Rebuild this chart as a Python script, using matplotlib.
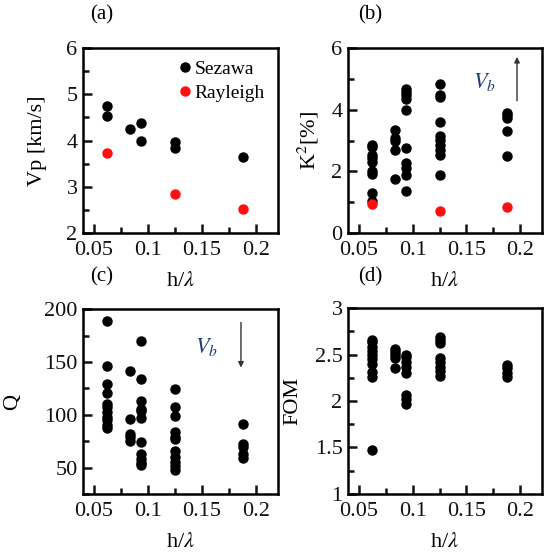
import numpy as np
import matplotlib
matplotlib.use('Agg')
import matplotlib.pyplot as plt
from matplotlib.ticker import MultipleLocator, FixedLocator

plt.rcParams['font.family'] = ['Liberation Serif', 'DejaVu Serif']
plt.rcParams['mathtext.fontset'] = 'stix'

# (a) phase velocity
vp_sez_x = [0.0625, 0.0625, 0.0833, 0.09375, 0.09375, 0.125, 0.125, 0.1875]
vp_sez_y = [4.75, 4.52, 4.25, 4.38, 4.0, 3.97, 3.83, 3.65]
vp_ray_x = [0.0625, 0.125, 0.1875]
vp_ray_y = [3.73, 2.85, 2.53]

# (b) coupling coefficient
k2_sez_x = [0.0625]*9 + [0.0833]*5 + [0.09375]*10 + [0.125]*10 + [0.1875]*5
k2_sez_y = [2.86, 2.78, 2.54, 2.43, 2.32, 2.02, 1.92, 1.30, 1.03,
            3.35, 3.08, 2.97, 2.70, 1.76,
            4.67, 4.59, 4.49, 4.36, 4.00, 2.76, 2.27, 2.11, 1.89, 1.35,
            4.83, 4.49, 4.40, 3.59, 3.14, 3.03, 2.84, 2.70, 2.54, 1.87,
            3.89, 3.82, 3.73, 3.32, 2.49]
k2_ray_x = [0.0625, 0.125, 0.1875]
k2_ray_y = [0.93, 0.72, 0.85]

# (c) quality factor
q_x = [0.0625]*11 + [0.0833]*5 + [0.09375]*11 + [0.125]*11 + [0.1875]*5
q_y = [188.7, 146, 129, 120.8, 110.6, 106.9, 102.7, 98, 94.8, 90.1, 87,
       141.3, 95.5, 82.2, 79, 75.3,
       170, 134.3, 113.2, 105.9, 103.7, 97, 74.3, 62.6, 58.5, 54.7, 52.2,
       124.2, 106.9, 98.6, 83.8, 79, 76.8, 65.8, 60.1, 55.4, 51.6, 48.1,
       91.7, 72.1, 69, 63.3, 59.5]

# (d) figure of merit
fom_x = [0.0625]*10 + [0.0833]*5 + [0.09375]*8 + [0.125]*8 + [0.1875]*4
fom_y = [2.66, 2.63, 2.58, 2.54, 2.49, 2.45, 2.40, 2.31, 2.26, 1.47,
         2.56, 2.53, 2.49, 2.46, 2.35,
         2.50, 2.47, 2.42, 2.37, 2.30, 2.06, 2.02, 1.97,
         2.69, 2.66, 2.62, 2.46, 2.42, 2.37, 2.32, 2.27,
         2.39, 2.35, 2.30, 2.26]

xticks = [0.05, 0.1, 0.15, 0.2]
xticklabels = ['0.05', '0.1', '0.15', '0.2']

fig = plt.figure(figsize=(5.5, 5.55), dpi=100)
ax_a = fig.add_axes([0.151, 0.580, 0.354, 0.3335])
ax_b = fig.add_axes([0.633, 0.580, 0.352, 0.3335])
ax_c = fig.add_axes([0.151, 0.110, 0.354, 0.333])
ax_d = fig.add_axes([0.633, 0.110, 0.352, 0.335])

ms = 6.5
blk = '#000000'
red = '#ff1010'
vb_col = '#1d3b78'


def style(ax, ylim, ymaj, ymin, ylabel, ylab_x):
    ax.set_xlim(0.04, 0.22)
    ax.set_ylim(*ylim)
    ax.xaxis.set_major_locator(FixedLocator(xticks))
    ax.set_xticklabels(xticklabels)
    ax.xaxis.set_minor_locator(FixedLocator([0.075, 0.125, 0.175]))
    ax.yaxis.set_major_locator(MultipleLocator(ymaj))
    ax.yaxis.set_minor_locator(MultipleLocator(ymin))
    ax.tick_params(which='both', direction='in', top=False, right=False,
                   width=1.8, labelsize=16, colors='#111111')
    ax.tick_params(which='major', length=6.5)
    ax.tick_params(which='minor', length=4)
    ax.tick_params(axis='x', which='major', pad=6)
    ax.tick_params(axis='y', which='major', pad=4)
    for s in ax.spines.values():
        s.set_linewidth(1.8)
    ax.set_xlabel('h/$\\lambda$', fontsize=16)
    ax.xaxis.set_label_coords(0.5, -0.26)
    ax.xaxis.label.set_va('center')
    ax.set_ylabel(ylabel, fontsize=16)
    ax.yaxis.set_label_coords(ylab_x, 0.5)
    ax.yaxis.label.set_va('center')


# (a)
ax_a.plot(vp_sez_x, vp_sez_y, 'o', color=blk, ms=ms, label='Sezawa')
ax_a.plot(vp_ray_x, vp_ray_y, 'o', color=red, ms=ms, label='Rayleigh')
style(ax_a, (2, 6), 1, 0.5, 'Vp [km/s]', -0.236)
ax_a.legend(loc='upper right', frameon=False, fontsize=14, handletextpad=0.0,
            handlelength=1.0, borderaxespad=0.25, labelspacing=0.3)

# (b)
ax_b.plot(k2_sez_x, k2_sez_y, 'o', color=blk, ms=ms)
ax_b.plot(k2_ray_x, k2_ray_y, 'o', color=red, ms=ms)
style(ax_b, (0, 6), 2, 1, 'K$^2$[%]', -0.206)
ax_b.annotate('', xy=(0.197, 5.8), xytext=(0.197, 4.2),
              arrowprops=dict(arrowstyle='-|>', color='#333333', lw=1.0,
                              mutation_scale=8))
ax_b.text(0.167, 4.9, '$V_b$', color=vb_col, fontsize=16, ha='center', va='center')

# (c)
ax_c.plot(q_x, q_y, 'o', color=blk, ms=ms)
style(ax_c, (25, 200), 50, 25, 'Q', -0.364)
ax_c.annotate('', xy=(0.186, 142), xytext=(0.186, 190),
              arrowprops=dict(arrowstyle='-|>', color='#333333', lw=1.0,
                              mutation_scale=8))
ax_c.text(0.154, 164, '$V_b$', color=vb_col, fontsize=16, ha='center', va='center')

# (d)
ax_d.plot(fom_x, fom_y, 'o', color=blk, ms=ms)
style(ax_d, (1, 3), 0.5, 0.25, 'FOM', -0.284)
ax_d.set_yticks([1, 1.5, 2, 2.5, 3])
ax_d.set_yticklabels(['1', '1.5', '2', '2.5', '3'])

for lab, x, y in [('(a)', 102, 15), ('(b)', 370, 15), ('(c)', 102, 277), ('(d)', 370, 277)]:
    fig.text(x / 550, 1 - y / 555, lab, fontsize=15, ha='center', va='center')

fig.savefig('out.png', dpi=100)
